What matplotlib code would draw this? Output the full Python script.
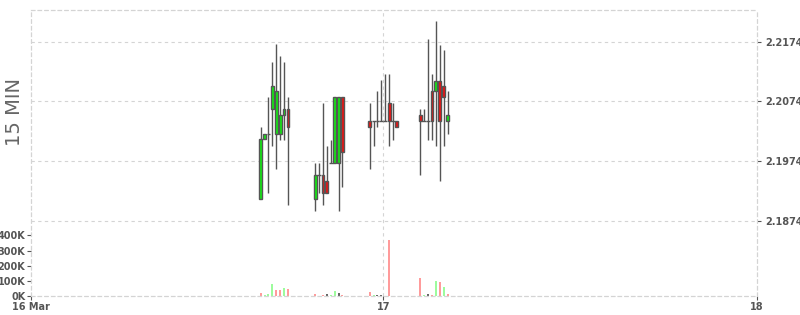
import numpy as np
import pandas as pd
import matplotlib
matplotlib.use('Agg')
from matplotlib import pyplot as plt
import matplotlib.dates as mdates

# 15 minute bars (start time of each bar)
times = ['2020-03-16 16:00', '2020-03-16 16:15', '2020-03-16 16:30', '2020-03-16 16:45',
         '2020-03-16 17:00', '2020-03-16 17:15', '2020-03-16 17:30', '2020-03-16 17:45',
         '2020-03-16 19:30', '2020-03-16 19:45', '2020-03-16 20:00', '2020-03-16 20:15',
         '2020-03-16 20:30', '2020-03-16 20:45', '2020-03-16 21:00', '2020-03-16 21:15',
         '2020-03-16 23:00', '2020-03-16 23:15', '2020-03-16 23:30', '2020-03-16 23:45',
         '2020-03-17 00:00', '2020-03-17 00:15', '2020-03-17 00:30', '2020-03-17 00:45',
         '2020-03-17 02:15', '2020-03-17 02:30', '2020-03-17 02:45', '2020-03-17 03:00',
         '2020-03-17 03:15', '2020-03-17 03:30', '2020-03-17 03:45', '2020-03-17 04:00']
opens = [2.1910, 2.2011, 2.2020, 2.2061, 2.2020, 2.2020, 2.2051, 2.2061,
         2.1910, 2.1950, 2.1950, 2.1940, 2.1970, 2.1970, 2.1970, 2.2081,
         2.2041, 2.2041, 2.2041, 2.2041, 2.2041, 2.2071, 2.2041, 2.2041,
         2.2051, 2.2041, 2.2041, 2.2091, 2.2091, 2.2108, 2.2099, 2.2041]
highs = [2.2031, 2.2020, 2.2081, 2.2139, 2.2170, 2.2150, 2.2139, 2.2081,
         2.1970, 2.1970, 2.2071, 2.2000, 2.2010, 2.2081, 2.2081, 2.2081,
         2.2072, 2.2041, 2.2091, 2.2110, 2.2120, 2.2120, 2.2071, 2.2041,
         2.2061, 2.2061, 2.2179, 2.2119, 2.2209, 2.2169, 2.2159, 2.2091]
lows = [2.1910, 2.2011, 2.1920, 2.2000, 2.1960, 2.2010, 2.2010, 2.1900,
        2.1890, 2.1920, 2.1900, 2.1920, 2.1970, 2.1970, 2.1890, 2.1930,
        2.1960, 2.2000, 2.2031, 2.2041, 2.2041, 2.2000, 2.2010, 2.2031,
        2.1950, 2.2041, 2.2010, 2.2010, 2.2000, 2.1940, 2.2000, 2.2020]
closes = [2.2011, 2.2020, 2.2020, 2.2099, 2.2091, 2.2051, 2.2061, 2.2031,
          2.1950, 2.1950, 2.1920, 2.1920, 2.1970, 2.2081, 2.2081, 2.1990,
          2.2031, 2.2041, 2.2041, 2.2041, 2.2041, 2.2041, 2.2041, 2.2031,
          2.2041, 2.2041, 2.2041, 2.2041, 2.2108, 2.2041, 2.2081, 2.2051]
volumes = [22000, 9000, 15000, 81000, 42000, 42000, 55000, 48000,
           15000, 0, 9000, 15000, 9000, 35000, 22000, 9000,
           28000, 9000, 9000, 9000, 3000, 370000, 2000, 1000,
           120000, 9000, 15000, 9000, 100000, 94000, 61000, 15000]
# volume tick direction: u = up, d = down, f = unchanged
vol_dir = ['d', 'u', 'u', 'u', 'd', 'd', 'u', 'd',
           'd', 'f', 'd', 'f', 'u', 'u', 'f', 'd',
           'd', 'u', 'f', 'f', 'f', 'd', 'u', 'f',
           'd', 'u', 'f', 'd', 'u', 'd', 'u', 'd']
price_ticks = [2.1874, 2.1974, 2.2074, 2.2174]
vol_ticks = [0, 100000, 200000, 300000, 400000]

df = pd.DataFrame({'open': opens, 'high': highs, 'low': lows, 'close': closes,
                   'volume': volumes, 'dir': vol_dir}, index=pd.to_datetime(times))

grid_c = '#d4d4d4'
text_c = '#555555'
edge_c = '#555555'
bar_min = 1.0 / 1440
x = mdates.date2num(df.index.to_pydatetime()) + 7.5 * bar_min

fig = plt.figure(figsize=(8, 3.15), dpi=100)
ax = fig.add_axes([31 / 800, 1 - 296.3 / 315, 726 / 800, 286.3 / 315])
ax2 = ax.twinx()

day17 = mdates.date2num(pd.Timestamp('2020-03-17').to_pydatetime())
day18 = mdates.date2num(pd.Timestamp('2020-03-18').to_pydatetime())
x0 = day17 - 352.3 / 373.7
ax.set_xlim(x0, day18)
ax.set_ylim(2.17479, 2.22267)
ax2.set_ylim(0, 1877000)

# volume bars
vcol = {'u': '#9dfc9d', 'd': '#ff9b9b', 'f': '#666666'}
ax2.bar(x, df['volume'], width=7.5 * bar_min, color=[vcol[d] for d in df['dir']],
        linewidth=0, zorder=2)

# candles
ax.vlines(x, df['low'], df['high'], color=edge_c, linewidth=1, zorder=3)
for xi, o, c in zip(x, df['open'], df['close']):
    if o == c:
        ax.hlines(o, xi - 7.5 * bar_min, xi + 7.5 * bar_min, color=edge_c, linewidth=1, zorder=4)
    else:
        col = '#11ee11' if c > o else '#ee1111'
        ax.bar(xi, abs(c - o), bottom=min(o, c), width=11 * bar_min, color=col,
               edgecolor=edge_c, linewidth=1, zorder=4)

ax.set_zorder(ax2.get_zorder() + 1)
ax.patch.set_visible(False)

# grid
for p in price_ticks:
    ax.axhline(p, color=grid_c, linewidth=0.8, linestyle=(0, (3, 3)), zorder=1)
ax.axvline(day17, color=grid_c, linewidth=0.8, linestyle=(0, (3, 3)), zorder=1)

for a in (ax, ax2):
    for s in a.spines.values():
        s.set_color(grid_c)
        s.set_linestyle((0, (3, 3)))
        s.set_linewidth(0.8)

# price axis on the right
ax.yaxis.tick_right()
ax.set_yticks(price_ticks)
ax.set_yticklabels(['%.4f' % p for p in price_ticks])
ax.tick_params(axis='y', direction='out', length=3, color=text_c, labelcolor=text_c,
               labelsize=7, pad=3)
for t in ax.get_yticklabels():
    t.set_fontweight('bold')

# volume axis on the left
ax2.yaxis.tick_left()
ax2.set_yticks(vol_ticks)
ax2.set_yticklabels(['%dK' % (v // 1000) for v in vol_ticks])
ax2.tick_params(axis='y', direction='out', length=3, color=text_c, labelcolor=text_c,
                labelsize=7, pad=1)
for t in ax2.get_yticklabels():
    t.set_fontweight('bold')

# time axis
ax.set_xticks([x0, day17, day18])
ax.set_xticklabels(['16 Mar', '17', '18'])
ax.tick_params(axis='x', direction='out', length=3, color=text_c, labelcolor=text_c,
               labelsize=7, pad=1)
for t in ax.get_xticklabels():
    t.set_fontweight('bold')

fig.text(15 / 800, 1 - 112 / 315, '15 MIN', rotation=90, ha='center', va='center',
         fontsize=14, color='#666666')

fig.savefig('out.png', dpi=100)
